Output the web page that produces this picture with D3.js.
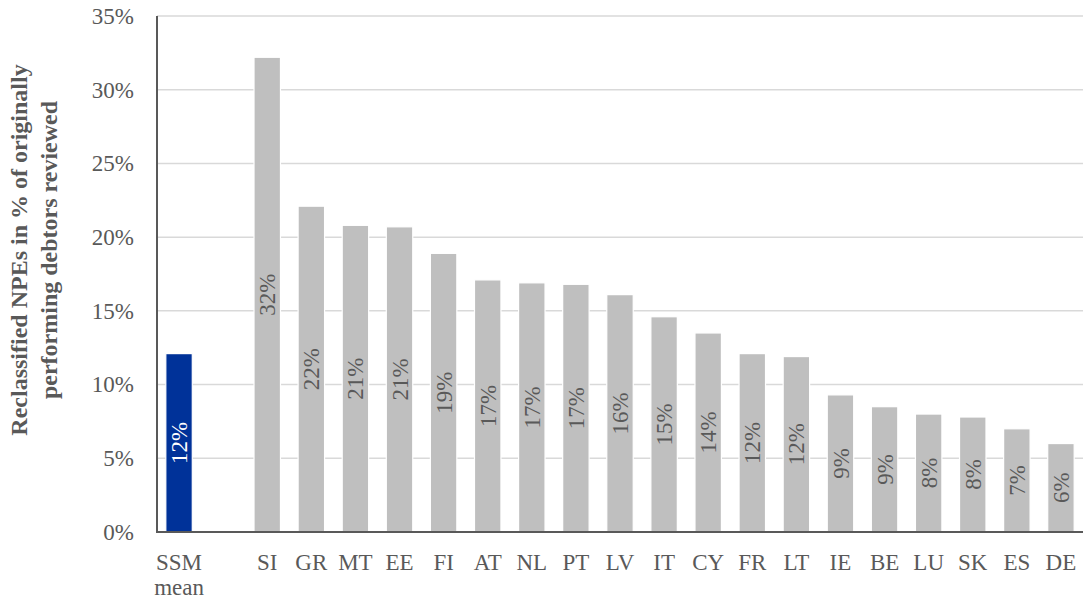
<!DOCTYPE html>
<html><head><meta charset="utf-8">
<script src="https://cdn.jsdelivr.net/npm/d3@7"></script>
<style>body{margin:0;background:#fff}svg{display:block}</style>
</head><body>
<svg id="c" width="1083" height="601"></svg>
<script>
const categories = ["SSM mean", " ", "SI", "GR", "MT", "EE", "FI", "AT", "NL", "PT", "LV", "IT", "CY", "FR", "LT", "IE", "BE", "LU", "SK", "ES", "DE"];
const values = [0.121, null, 0.322, 0.221, 0.208, 0.207, 0.189, 0.171, 0.169, 0.168, 0.161, 0.146, 0.135, 0.121, 0.119, 0.093, 0.085, 0.080, 0.078, 0.070, 0.060];
const barLabels = ["12%", "", "32%", "22%", "21%", "21%", "19%", "17%", "17%", "17%", "16%", "15%", "14%", "12%", "12%", "9%", "9%", "8%", "8%", "7%", "6%"];
const yTicks = [0, 0.05, 0.10, 0.15, 0.20, 0.25, 0.30, 0.35];
const yTitle = ["Reclassified NPEs in % of originally", "performing debtors reviewed"];

(function () {
const svg = d3.select("#c");
const font = "'Liberation Serif','Times New Roman',serif";
const pLeft = 157, pRight = 1083, pTop = 16, pBottom = 532;

const x = d3.scaleBand().domain(categories).range([pLeft, pRight]).paddingInner(0.4).paddingOuter(0.2);
const y = d3.scaleLinear().domain([0, 0.35]).range([pBottom, pTop]);

// gridlines
svg.append("g").selectAll("line").data(yTicks.filter(d => d > 0)).join("line")
  .attr("x1", pLeft).attr("x2", pRight)
  .attr("y1", d => y(d)).attr("y2", d => y(d))
  .attr("stroke", "#d9d9d9").attr("stroke-width", 1.5);

// y tick labels
const yAxis = d3.axisLeft(y).tickValues(yTicks).tickFormat(d3.format(".0%")).tickSize(0).tickPadding(23);
const ya = svg.append("g").attr("transform", `translate(${pLeft},0)`).call(yAxis);
ya.select(".domain").remove();
ya.selectAll("text").attr("font-family", font).attr("font-size", 23).attr("fill", "#595959");

// bars
const data = categories.map((c, i) => ({c, v: values[i], l: barLabels[i], i}));
svg.append("g").selectAll("rect").data(data.filter(d => d.v != null)).join("rect")
  .attr("x", d => x(d.c)).attr("width", x.bandwidth())
  .attr("y", d => y(d.v)).attr("height", d => y(0) - y(d.v))
  .attr("fill", d => d.i === 0 ? "#003299" : "#bfbfbf")
  .attr("stroke", "#fff").attr("stroke-width", 1.2);

// bar labels (reading bottom-to-top)
svg.append("g").selectAll("text").data(data.filter(d => d.v != null)).join("text")
  .attr("transform", d => `translate(${x(d.c) + x.bandwidth() / 2},${(y(d.v) + y(0)) / 2}) rotate(-90)`)
  .attr("text-anchor", "middle").attr("dy", "0.35em")
  .attr("font-family", font).attr("font-size", 23)
  .attr("fill", d => d.i === 0 ? "#ffffff" : "#595959")
  .text(d => d.l);

// axes lines
svg.append("line").attr("x1", pLeft).attr("x2", pRight).attr("y1", pBottom).attr("y2", pBottom)
  .attr("stroke", "#595959").attr("stroke-width", 2);
svg.append("line").attr("x1", pLeft).attr("x2", pLeft).attr("y1", pTop).attr("y2", pBottom + 1)
  .attr("stroke", "#595959").attr("stroke-width", 2);

// x labels
const xl = svg.append("g").selectAll("text").data(categories).join("text")
  .attr("x", d => x(d) + x.bandwidth() / 2).attr("y", 570)
  .attr("text-anchor", "middle")
  .attr("font-family", font).attr("font-size", 23).attr("fill", "#595959");
xl.each(function(d) {
  const parts = d.split(" ").filter(p => p);
  const t = d3.select(this);
  parts.forEach((p, k) => t.append("tspan").attr("x", x(d) + x.bandwidth() / 2).attr("dy", k === 0 ? 0 : 25).text(p));
});

// y title
const yt = svg.append("text").attr("transform", "translate(34,250) rotate(-90)")
  .attr("text-anchor", "middle").attr("font-family", font).attr("font-size", 24)
  .attr("font-weight", "bold").attr("fill", "#595959");
yTitle.forEach((s, k) => yt.append("tspan").attr("x", 0).attr("dy", k === 0 ? "-0.3em" : "1.25em").text(s));
})();
</script>
</body></html>
